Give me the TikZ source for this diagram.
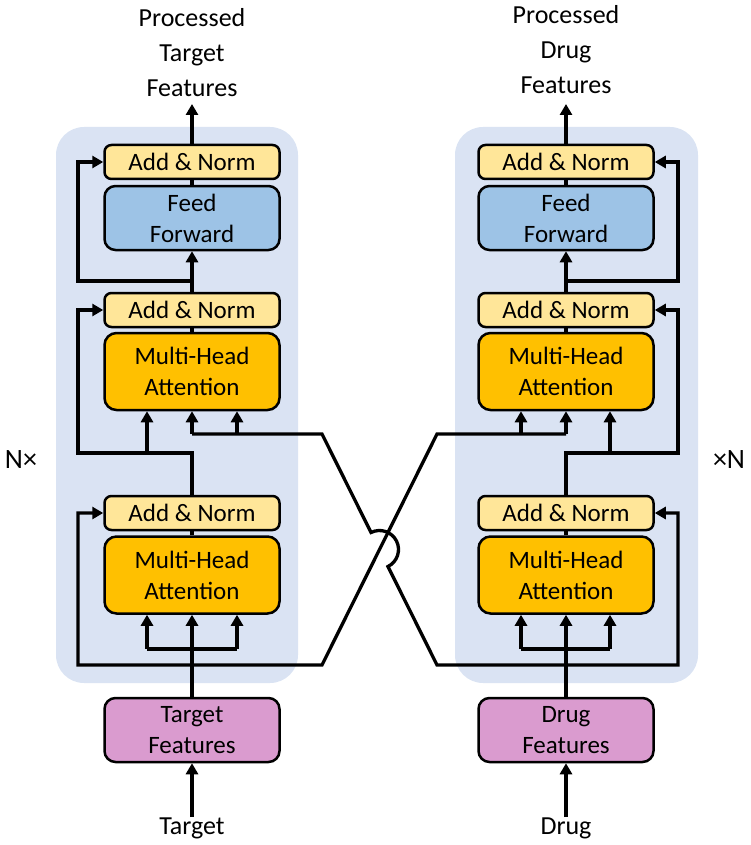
\documentclass[tikz,border=0pt]{standalone}
\usepackage{fontspec}
\setmainfont{Carlito}
\usetikzlibrary{arrows.meta,calc}
\definecolor{bgblue}{HTML}{DAE3F3}
\definecolor{addnorm}{HTML}{FFE699}
\definecolor{mhacol}{HTML}{FFC000}
\definecolor{ffcol}{HTML}{9DC3E6}
\definecolor{featcol}{HTML}{DA9BCF}
\begin{document}
\begin{tikzpicture}[x=1pt,y=1pt,
  box/.style={draw=black, line width=2.5pt, minimum width=175pt, align=center, inner sep=0pt, font=\fontsize{25}{31}\selectfont},
  anbox/.style={box, fill=addnorm, minimum height=34pt, rounded corners=7pt},
  mhabox/.style={box, fill=mhacol, minimum height=77pt, rounded corners=12pt},
  ffbox/.style={box, fill=ffcol, minimum height=64pt, rounded corners=11pt},
  featbox/.style={box, fill=featcol, minimum height=64pt, rounded corners=11pt},
  wire/.style={line width=3.3pt},
  arr/.style={wire, -{Triangle[length=11pt,width=12pt]}},
  lbl/.style={align=center, font=\fontsize{26}{35}\selectfont, inner sep=0pt}]
\useasboundingbox (0,0) rectangle (750,-845);
\fill[bgblue, rounded corners=28pt] (56,-127) rectangle (298,-683);
\fill[bgblue, rounded corners=28pt] (455,-127) rectangle (698,-683);

% left column
\node[anbox] (anL1) at (192,-162) {Add \& Norm};
\node[ffbox] (ffL) at (192,-218) {Feed\\Forward};
\node[anbox] (anL2) at (192,-310) {Add \& Norm};
\node[mhabox] (mhaL1) at (192,-371.5) {Multi-Head\\Attention};
\node[anbox] (anL3) at (192,-513) {Add \& Norm};
\node[mhabox] (mhaL2) at (192,-575) {Multi-Head\\Attention};
\node[featbox] (tfL) at (192,-730) {Target\\Features};
\node[lbl] (outL) at (192,-53) {Processed\\Target\\Features};
\node[lbl] (inL) at (192,-828) {Target};

% right column
\node[anbox] (anR1) at (566,-162) {Add \& Norm};
\node[ffbox] (ffR) at (566,-218) {Feed\\Forward};
\node[anbox] (anR2) at (566,-310) {Add \& Norm};
\node[mhabox] (mhaR1) at (566,-371.5) {Multi-Head\\Attention};
\node[anbox] (anR3) at (566,-513) {Add \& Norm};
\node[mhabox] (mhaR2) at (566,-575) {Multi-Head\\Attention};
\node[featbox] (dfR) at (566,-730) {Drug\\Features};
\node[lbl] (outR) at (566,-50) {Processed\\Drug\\Features};
\node[lbl] (inR) at (566,-828) {Drug};

\node[lbl, font=\fontsize{28}{34}\selectfont] (nL) at (21,-460) {N×};
\node[lbl, font=\fontsize{28}{34}\selectfont] (nR) at (729,-460) {×N};

% coordinates
\coordinate (tipL) at (192,-104);
\coordinate (jL1) at (192,-281);
\coordinate (sL1) at (78,-281);
\coordinate (jL2) at (192,-453);
\coordinate (sL2) at (78,-453);
\coordinate (kL) at (147,-453);
\coordinate (iL) at (192,-434);
\coordinate (iL2) at (237,-434);
\coordinate (bL1) at (147,-649);
\coordinate (bL2) at (237,-649);
\coordinate (sL3) at (78,-665);

\coordinate (tipR) at (566,-104);
\coordinate (jR1) at (566,-281);
\coordinate (sR1) at (678,-281);
\coordinate (jR2) at (566,-453);
\coordinate (sR2) at (678,-453);
\coordinate (kR) at (610,-453);
\coordinate (iR) at (566,-434);
\coordinate (iR2) at (521,-434);
\coordinate (bR1) at (521,-649);
\coordinate (bR2) at (610,-649);
\coordinate (sR3) at (678,-665);

\coordinate (cA1) at (322,-434);
\coordinate (cA2) at (437,-665);
\coordinate (cB1) at (322,-665);
\coordinate (cB2) at (437,-434);
\coordinate (X) at (intersection of cA1--cA2 and cB1--cB2);

% left wires
\draw[arr] (anL1.north) -- (tipL);
\draw[wire] (ffL.north) -- (anL1.south);
\draw[arr] (anL2.north) -- (ffL.south);
\draw[arr] (jL1) -- (sL1) |- (anL1.west);
\draw[wire] (mhaL1.north) -- (anL2.south);
\draw[arr] (anL3.north) -- (jL2) -- (sL2) |- (anL2.west);
\draw[arr] (kL) -- (kL |- mhaL1.south);
\draw[arr] (iL) -- (mhaL1.south);
\draw[arr] (iL2) -- (iL2 |- mhaL1.south);
\draw[wire] (mhaL2.north) -- (anL3.south);
\draw[arr] (tfL.north) -- (mhaL2.south);
\draw[wire] (bL1) -- (bL2);
\draw[arr] (bL1) -- (bL1 |- mhaL2.south);
\draw[arr] (bL2) -- (bL2 |- mhaL2.south);
\draw[arr] (inL.north) -- (tfL.south);

% right wires
\draw[arr] (anR1.north) -- (tipR);
\draw[wire] (ffR.north) -- (anR1.south);
\draw[arr] (anR2.north) -- (ffR.south);
\draw[arr] (jR1) -- (sR1) |- (anR1.east);
\draw[wire] (mhaR1.north) -- (anR2.south);
\draw[arr] (anR3.north) -- (jR2) -- (sR2) |- (anR2.east);
\draw[arr] (kR) -- (kR |- mhaR1.south);
\draw[arr] (iR) -- (mhaR1.south);
\draw[arr] (iR2) -- (iR2 |- mhaR1.south);
\draw[wire] (mhaR2.north) -- (anR3.south);
\draw[arr] (dfR.north) -- (mhaR2.south);
\draw[wire] (bR1) -- (bR2);
\draw[arr] (bR1) -- (bR1 |- mhaR2.south);
\draw[arr] (bR2) -- (bR2 |- mhaR2.south);
\draw[arr] (inR.north) -- (dfR.south);

% crossing wires
\draw[arr] (iL) -- (cA1) -- ($(X)!19pt!(cA1)$) arc[start angle=116.46, end angle=-63.54, radius=19] -- (cA2) -- (sR3) |- (anR3.east);
\draw[arr] (iR) -- (cB2) -- (cB1) -- (sL3) |- (anL3.west);
\end{tikzpicture}
\end{document}
